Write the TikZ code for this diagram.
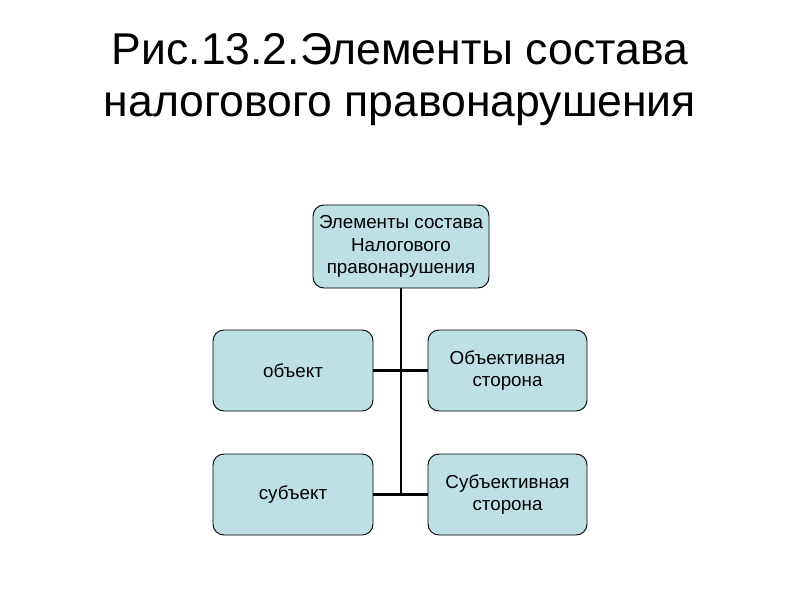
\documentclass[tikz,border=0pt]{standalone}
\usepackage{fontspec}
\setmainfont{Liberation Sans}
\definecolor{boxfill}{RGB}{188,224,228}
\begin{document}
\begin{tikzpicture}[x=1pt,y=-1pt,
  blk/.style={draw=black, line width=0.9pt, fill=boxfill, rounded corners=11pt, align=center, font=\fontsize{18.8}{22.5}\selectfont, inner sep=0pt},
  conn/.style={line width=2.6pt}]
\useasboundingbox (0,0) rectangle (800,600);
\node[font=\fontsize{44.5}{52}\selectfont, align=center] (title) at (400,79.5) {Рис.13.2.Элементы состава\\налогового правонарушения};
\node[blk, minimum width=176pt, minimum height=83pt] (top) at (401,246.5) {Элементы состава\\Налогового\\правонарушения};
\node[blk, minimum width=160pt, minimum height=81pt] (obj) at (293,370.5) {объект};
\node[blk, minimum width=159pt, minimum height=81pt] (objs) at (507.5,370.5) {Объективная\\сторона};
\node[blk, minimum width=160pt, minimum height=81pt] (sub) at (293,494.5) {субъект};
\node[blk, minimum width=159pt, minimum height=81pt] (subs) at (507.5,494.5) {Субъективная\\сторона};
\coordinate (jend) at (401,495);
\draw[conn] (top.south) -- (jend);
\draw[conn] (obj.east) -- (objs.west);
\draw[conn] (sub.east) -- (subs.west);
\end{tikzpicture}
\end{document}
